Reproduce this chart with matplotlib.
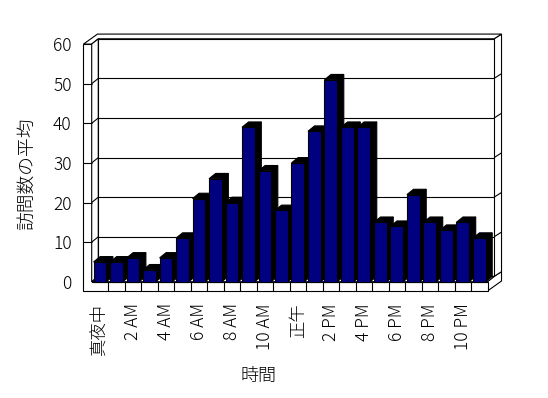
import matplotlib
matplotlib.use("Agg")
import matplotlib.pyplot as plt
from matplotlib.patches import Polygon

plt.rcParams['font.family'] = ['Noto Sans CJK JP', 'DejaVu Sans']

# Data
hours = ['真夜中', '1 AM', '2 AM', '3 AM', '4 AM', '5 AM', '6 AM', '7 AM',
         '8 AM', '9 AM', '10 AM', '11 AM', '正午', '1 PM', '2 PM', '3 PM',
         '4 PM', '5 PM', '6 PM', '7 PM', '8 PM', '9 PM', '10 PM', '11 PM']
visits = [5, 5, 6, 3, 6, 11, 21, 26, 20, 39, 28, 18,
          30, 38, 51, 39, 39, 15, 14, 22, 15, 13, 15, 11]
yticks = [0, 10, 20, 30, 40, 50, 60]

# 3D box geometry (data units)
X0, X1 = -0.5, len(hours) - 0.5
YMAX = 60
DX, DY = 0.40, 1.34      # depth of plot area
TX, TY = 0.45, 1.19      # back wall thickness
WALL = -1.0              # left wall front edge
FLOOR = -2.35            # floor slab bottom
BAR_W = 0.77
LW = 0.8

W, H = 548, 398
fig = plt.figure(figsize=(W / 100, H / 100), dpi=100)
ax = fig.add_axes([91.7 / W, (H - 281.7) / H, 395.8 / W, 237.6 / H])
ax.set_xlim(X0, X1)
ax.set_ylim(0, YMAX)
ax.patch.set_visible(False)
for s in ax.spines.values():
    s.set_visible(False)


def face(pts, fc='white', z=1):
    ax.add_patch(Polygon(pts, closed=True, facecolor=fc, edgecolor='black',
                         lw=LW, clip_on=False, zorder=z))


def line(x, y, z=2):
    ax.plot(x, y, color='black', lw=LW, clip_on=False, zorder=z,
            solid_capstyle='butt')


# walls and floor
face([(X1, 0), (X1, FLOOR), (X1 + DX + TX, FLOOR + DY + TY),
      (X1 + DX + TX, DY + TY), (X1 + DX, DY)])
face([(X1 + DX, DY), (X1 + DX, YMAX + DY), (X1 + DX + TX, YMAX + DY + TY),
      (X1 + DX + TX, DY + TY)])
face([(WALL, YMAX), (X0, YMAX), (X0 + DX, YMAX + DY), (X1 + DX, YMAX + DY),
      (X1 + DX + TX, YMAX + DY + TY), (WALL + DX + TX, YMAX + DY + TY)])
face([(WALL, YMAX), (X0, YMAX), (X0, 0), (X1, 0), (X1, FLOOR), (WALL, FLOOR)])
face([(X0, 0), (X0, YMAX), (X0 + DX, YMAX + DY), (X0 + DX, DY)])
face([(X0 + DX, DY), (X1 + DX, DY), (X1 + DX, YMAX + DY), (X0 + DX, YMAX + DY)])
face([(X0, 0), (X1, 0), (X1 + DX, DY), (X0 + DX, DY)])

# gridlines
for v in yticks[1:-1]:
    line([X0 + DX, X1 + DX], [v + DY, v + DY])
    line([X0, X0 + DX], [v, v + DY])
    line([WALL, X0], [v, v])
    line([X1 + DX, X1 + DX + TX], [v + DY, v + DY + TY])

# category dividers on the floor front
for i in range(len(hours) - 1):
    line([i + 0.5, i + 0.5], [0, FLOOR])

# bars
for i, v in enumerate(visits):
    l, r = i - BAR_W / 2, i + BAR_W / 2
    z = 3 + i * 0.01
    face([(r, 0), (r, v), (r + DX, v + DY), (r + DX, DY)], 'black', z)
    face([(l, v), (r, v), (r + DX, v + DY), (l + DX, v + DY)], 'black', z)
    face([(l, 0), (r, 0), (r, v), (l, v)], '#000080', z)

ax.set_yticks(yticks)
ax.set_xticks(range(0, len(hours), 2))
ax.set_xticklabels(hours[::2], rotation=90, fontsize=12.5, fontweight='light')
ax.set_yticklabels([str(t) for t in yticks], fontsize=12.5, fontweight='light')
ax.tick_params(axis='y', length=0, pad=14.4)
ax.tick_params(axis='x', length=0, pad=15.5)

ax.set_xlabel('時間', fontsize=13, va='center', fontweight='light')
ax.xaxis.set_label_coords((259 - 91.7) / 395.8, (281.7 - 375.5) / 237.6)
ax.set_ylabel('訪問数の平均', fontsize=13.5, va='center', fontweight='light')
ax.yaxis.set_label_coords((26.7 - 91.7) / 395.8, (281.7 - 174) / 237.6)

fig.savefig('out.png', dpi=100)
